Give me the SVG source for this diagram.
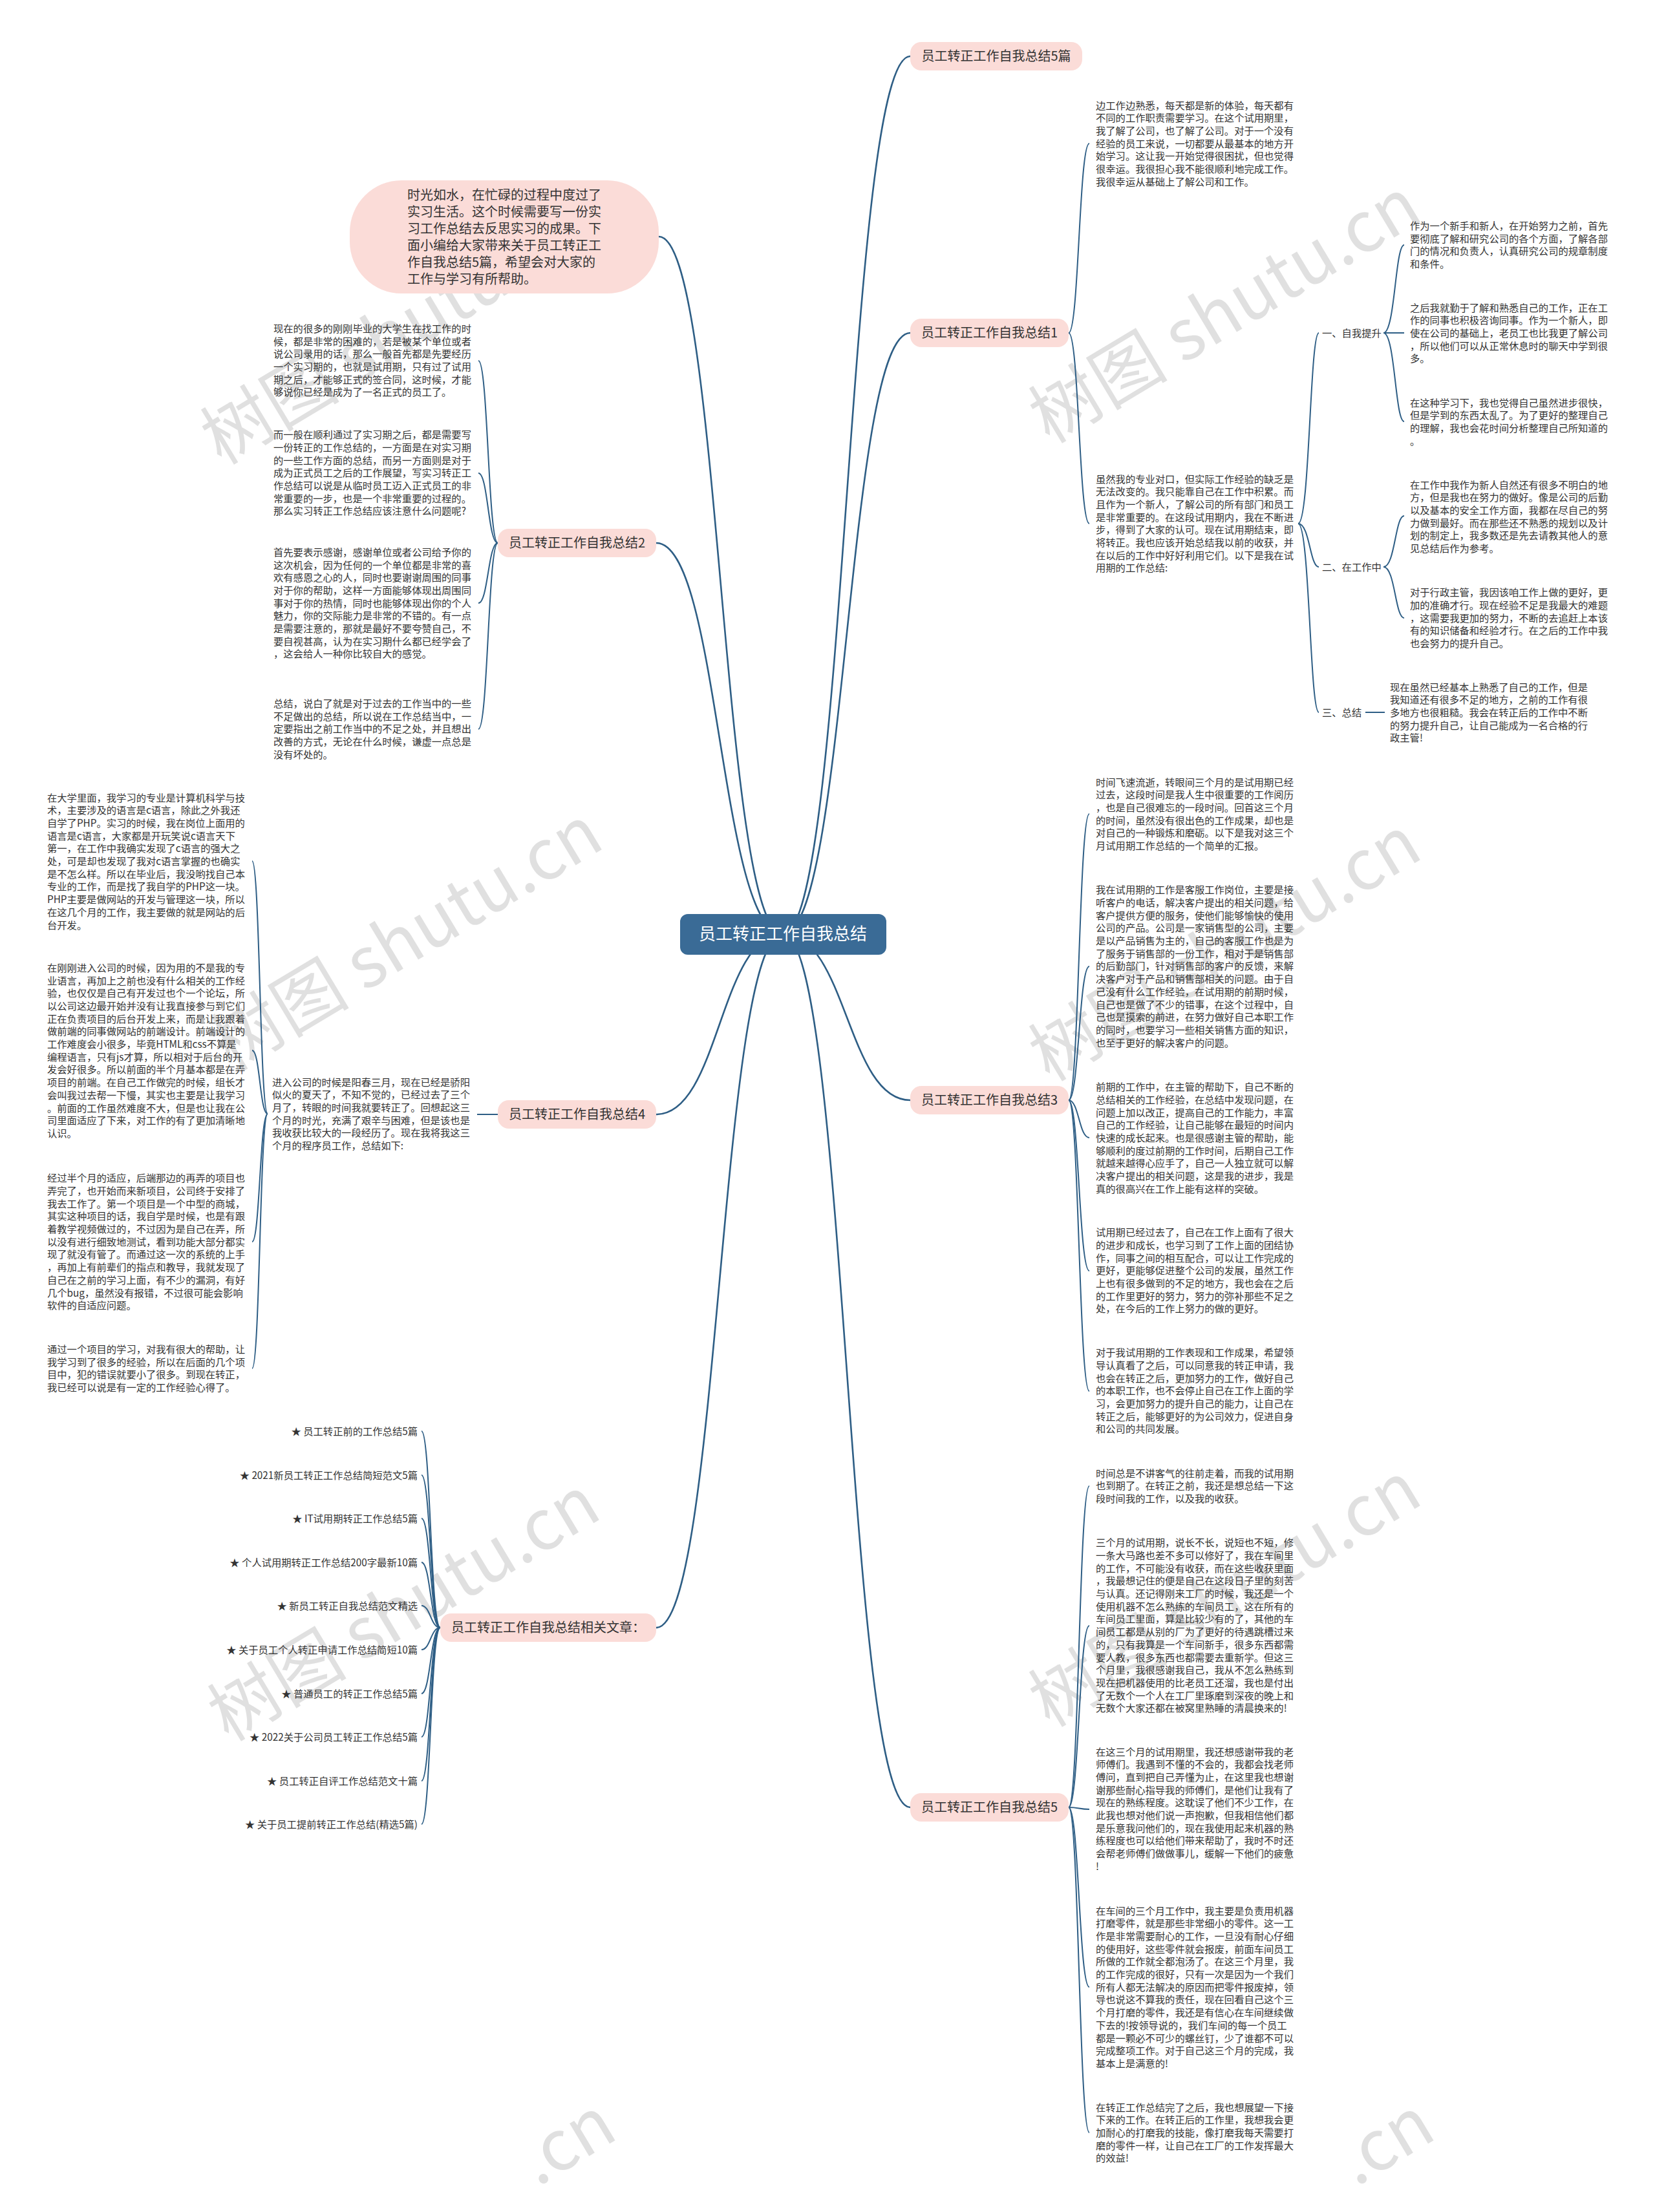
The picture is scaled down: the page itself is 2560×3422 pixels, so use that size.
<svg xmlns="http://www.w3.org/2000/svg" width="2560" height="3422" viewBox="0 0 2560 3422">
<style>
.t{font-family:"Noto Sans CJK SC","Noto Sans",sans-serif;font-size:15.3px;fill:#333}
.n{font-family:"Noto Sans CJK SC","Noto Sans",sans-serif;font-size:20px;fill:#333}
.w{font-family:"Noto Sans CJK SC","Noto Sans",sans-serif;font-size:108px;fill:#c8c8c8;opacity:0.55}
.c{stroke:#2e5e85;stroke-width:2.6;fill:none}
.s{stroke:#2e5e85;stroke-width:2;fill:none}
.b{fill:#fbdcd8}
</style>
<rect width="2560" height="3422" fill="#fff"/>
<g id="watermarks">
<text class="w" transform="translate(633,546) rotate(-31)" text-anchor="middle">树图 shutu.cn</text>
<text class="w" transform="translate(1914,513) rotate(-31)" text-anchor="middle">树图 shutu.cn</text>
<text class="w" transform="translate(648,1484) rotate(-31)" text-anchor="middle">树图 shutu.cn</text>
<text class="w" transform="translate(1914,1500) rotate(-31)" text-anchor="middle">树图 shutu.cn</text>
<text class="w" transform="translate(644,2521) rotate(-31)" text-anchor="middle">树图 shutu.cn</text>
<text class="w" transform="translate(1914,2499) rotate(-31)" text-anchor="middle">树图 shutu.cn</text>
<text class="w" transform="translate(895,3345) rotate(-31)" text-anchor="middle">.cn</text>
<text class="w" transform="translate(2161,3345) rotate(-31)" text-anchor="middle">.cn</text>
</g>
<g id="connectors">
<path class="c" d="M1211,1445 C1115,1445 1115,366 1019,366"/>
<path class="c" d="M1211,1445 C1310,1445 1310,87 1408,87"/>
<path class="c" d="M1211,1445 C1310,1445 1310,515 1408,515"/>
<path class="c" d="M1211,1445 C1113,1445 1113,840 1015,840"/>
<path class="c" d="M1211,1445 C1310,1445 1310,1702 1408,1702"/>
<path class="c" d="M1211,1445 C1113,1445 1113,1724 1015,1724"/>
<path class="c" d="M1211,1445 C1113,1445 1113,2518 1015,2518"/>
<path class="c" d="M1211,1445 C1310,1445 1310,2796 1408,2796"/>
<path class="s" d="M1653,515 C1669,515 1669,222 1685,222"/>
<path class="s" d="M1653,515 C1669,515 1669,810 1685,810"/>
<path class="s" d="M2008,810 C2026,810 2026,515 2040,515"/>
<path class="s" d="M2008,810 C2026,810 2026,877 2040,877"/>
<path class="s" d="M2008,810 C2026,810 2026,1102 2040,1102"/>
<path class="s" d="M2140,515 C2158,515 2158,379 2172,379"/>
<path class="s" d="M2140,515 L2172,515"/>
<path class="s" d="M2140,515 C2158,515 2158,652 2172,652"/>
<path class="s" d="M2140,877 C2158,877 2158,798 2172,798"/>
<path class="s" d="M2140,877 C2158,877 2158,956 2172,956"/>
<path class="s" d="M2112,1102 L2142,1102"/>
<path class="s" d="M770,840 C755,840 755,558 740,558"/>
<path class="s" d="M770,840 C755,840 755,732 740,732"/>
<path class="s" d="M770,840 C755,840 755,933 740,933"/>
<path class="s" d="M770,840 C755,840 755,1128 740,1128"/>
<path class="s" d="M770,1724 L738,1724"/>
<path class="s" d="M414,1723 C402,1723 402,1332 390,1332"/>
<path class="s" d="M414,1723 C402,1723 402,1625 390,1625"/>
<path class="s" d="M414,1723 C402,1723 402,1921 390,1921"/>
<path class="s" d="M414,1723 C402,1723 402,2117 390,2117"/>
<path class="s" d="M1653,1702 C1669,1702 1669,1259 1685,1259"/>
<path class="s" d="M1653,1702 C1669,1702 1669,1495 1685,1495"/>
<path class="s" d="M1653,1702 C1669,1702 1669,1760 1685,1760"/>
<path class="s" d="M1653,1702 C1669,1702 1669,1966 1685,1966"/>
<path class="s" d="M1653,1702 C1669,1702 1669,2152 1685,2152"/>
<path class="s" d="M1653,2796 C1669,2796 1669,2299 1685,2299"/>
<path class="s" d="M1653,2796 C1669,2796 1669,2515 1685,2515"/>
<path class="s" d="M1653,2796 C1669,2796 1669,2799 1685,2799"/>
<path class="s" d="M1653,2796 C1669,2796 1669,3074 1685,3074"/>
<path class="s" d="M1653,2796 C1669,2796 1669,3299 1685,3299"/>
<path class="s" d="M681,2518 C666,2518 666,2214 652,2214"/>
<path class="s" d="M681,2518 C666,2518 666,2282 652,2282"/>
<path class="s" d="M681,2518 C666,2518 666,2349 652,2349"/>
<path class="s" d="M681,2518 C666,2518 666,2417 652,2417"/>
<path class="s" d="M681,2518 C666,2518 666,2484 652,2484"/>
<path class="s" d="M681,2518 C666,2518 666,2552 652,2552"/>
<path class="s" d="M681,2518 C666,2518 666,2620 652,2620"/>
<path class="s" d="M681,2518 C666,2518 666,2687 652,2687"/>
<path class="s" d="M681,2518 C666,2518 666,2755 652,2755"/>
<path class="s" d="M681,2518 C666,2518 666,2822 652,2822"/>
</g>
<g id="center">
<rect x="1052" y="1414" width="319" height="63" rx="12" fill="#3a6b96"/>
<text x="1211" y="1454" text-anchor="middle" style="font-family:'Noto Sans CJK SC','Noto Sans',sans-serif;font-size:26px;fill:#fff">员工转正工作自我总结</text>
</g>
<g id="intro">
<rect x="541" y="279" width="478" height="175" rx="80" class="b"/>
<text class="n" x="630" y="308.5"><tspan x="630">时光如水，在忙碌的过程中度过了</tspan><tspan x="630" dy="26">实习生活。这个时候需要写一份实</tspan><tspan x="630" dy="26">习工作总结去反思实习的成果。下</tspan><tspan x="630" dy="26">面小编给大家带来关于员工转正工</tspan><tspan x="630" dy="26">作自我总结5篇，希望会对大家的</tspan><tspan x="630" dy="26">工作与学习有所帮助。</tspan></text>
</g>
<g id="n5p">
<rect x="1408" y="65" width="266" height="44" rx="17" class="b"/>
<text class="n" x="1541" y="94" text-anchor="middle">员工转正工作自我总结5篇</text>
</g>
<g id="n1">
<rect x="1408" y="493" width="245" height="44" rx="17" class="b"/>
<text class="n" x="1530.5" y="522" text-anchor="middle">员工转正工作自我总结1</text>
</g>
<g id="n2">
<rect x="770" y="818" width="245" height="44" rx="17" class="b"/>
<text class="n" x="892.5" y="847" text-anchor="middle">员工转正工作自我总结2</text>
</g>
<g id="n3">
<rect x="1408" y="1680" width="245" height="44" rx="17" class="b"/>
<text class="n" x="1530.5" y="1709" text-anchor="middle">员工转正工作自我总结3</text>
</g>
<g id="n4">
<rect x="770" y="1702" width="245" height="44" rx="17" class="b"/>
<text class="n" x="892.5" y="1731" text-anchor="middle">员工转正工作自我总结4</text>
</g>
<g id="nrel">
<rect x="681" y="2496" width="334" height="44" rx="17" class="b"/>
<text class="n" x="848" y="2525" text-anchor="middle">员工转正工作自我总结相关文章：</text>
</g>
<g id="n5">
<rect x="1408" y="2774" width="245" height="44" rx="17" class="b"/>
<text class="n" x="1530.5" y="2803" text-anchor="middle">员工转正工作自我总结5</text>
</g>
<g id="n1a">
<text class="t" x="1695" y="168.5"><tspan x="1695">边工作边熟悉，每天都是新的体验，每天都有</tspan><tspan x="1695" dy="19.7">不同的工作职责需要学习。在这个试用期里，</tspan><tspan x="1695" dy="19.7">我了解了公司，也了解了公司。对于一个没有</tspan><tspan x="1695" dy="19.7">经验的员工来说，一切都要从最基本的地方开</tspan><tspan x="1695" dy="19.7">始学习。这让我一开始觉得很困扰，但也觉得</tspan><tspan x="1695" dy="19.7">很幸运。我很担心我不能很顺利地完成工作。</tspan><tspan x="1695" dy="19.7">我很幸运从基础上了解公司和工作。</tspan></text>
</g>
<g id="n1b">
<text class="t" x="1695" y="746.5"><tspan x="1695">虽然我的专业对口，但实际工作经验的缺乏是</tspan><tspan x="1695" dy="19.7">无法改变的。我只能靠自己在工作中积累。而</tspan><tspan x="1695" dy="19.7">且作为一个新人，了解公司的所有部门和员工</tspan><tspan x="1695" dy="19.7">是非常重要的。在这段试用期内，我在不断进</tspan><tspan x="1695" dy="19.7">步，得到了大家的认可。现在试用期结束，即</tspan><tspan x="1695" dy="19.7">将转正。我也应该开始总结我以前的收获，并</tspan><tspan x="1695" dy="19.7">在以后的工作中好好利用它们。以下是我在试</tspan><tspan x="1695" dy="19.7">用期的工作总结:</tspan></text>
</g>
<g id="l1"><text class="t" x="2045" y="520.5">一、自我提升</text></g>
<g id="l2"><text class="t" x="2045" y="882.5">二、在工作中</text></g>
<g id="l3"><text class="t" x="2045" y="1107.5">三、总结</text></g>
<g id="r1">
<text class="t" x="2181" y="354.8"><tspan x="2181">作为一个新手和新人，在开始努力之前，首先</tspan><tspan x="2181" dy="19.7">要彻底了解和研究公司的各个方面，了解各部</tspan><tspan x="2181" dy="19.7">门的情况和负责人，认真研究公司的规章制度</tspan><tspan x="2181" dy="19.7">和条件。</tspan></text>
</g>
<g id="r2">
<text class="t" x="2181" y="481.5"><tspan x="2181">之后我就勤于了解和熟悉自己的工作，正在工</tspan><tspan x="2181" dy="19.7">作的同事也积极咨询同事。作为一个新人，即</tspan><tspan x="2181" dy="19.7">使在公司的基础上，老员工也比我更了解公司</tspan><tspan x="2181" dy="19.7">，所以他们可以从正常休息时的聊天中学到很</tspan><tspan x="2181" dy="19.7">多。</tspan></text>
</g>
<g id="r3">
<text class="t" x="2181" y="628.5"><tspan x="2181">在这种学习下，我也觉得自己虽然进步很快，</tspan><tspan x="2181" dy="19.7">但是学到的东西太乱了。为了更好的整理自己</tspan><tspan x="2181" dy="19.7">的理解，我也会花时间分析整理自己所知道的</tspan><tspan x="2181" dy="19.7">。</tspan></text>
</g>
<g id="r4">
<text class="t" x="2181" y="755.5"><tspan x="2181">在工作中我作为新人自然还有很多不明白的地</tspan><tspan x="2181" dy="19.7">方，但是我也在努力的做好。像是公司的后勤</tspan><tspan x="2181" dy="19.7">以及基本的安全工作方面，我都在尽自己的努</tspan><tspan x="2181" dy="19.7">力做到最好。而在那些还不熟悉的规划以及计</tspan><tspan x="2181" dy="19.7">划的制定上，我多数还是先去请教其他人的意</tspan><tspan x="2181" dy="19.7">见总结后作为参考。</tspan></text>
</g>
<g id="r5">
<text class="t" x="2181" y="922.2"><tspan x="2181">对于行政主管，我因该咱工作上做的更好，更</tspan><tspan x="2181" dy="19.7">加的准确才行。现在经验不足是我最大的难题</tspan><tspan x="2181" dy="19.7">，这需要我更加的努力，不断的去追赶上本该</tspan><tspan x="2181" dy="19.7">有的知识储备和经验才行。在之后的工作中我</tspan><tspan x="2181" dy="19.7">也会努力的提升自己。</tspan></text>
</g>
<g id="r6">
<text class="t" x="2150" y="1068.5"><tspan x="2150">现在虽然已经基本上熟悉了自己的工作，但是</tspan><tspan x="2150" dy="19.7">我知道还有很多不足的地方，之前的工作有很</tspan><tspan x="2150" dy="19.7">多地方也很粗糙。我会在转正后的工作中不断</tspan><tspan x="2150" dy="19.7">的努力提升自己，让自己能成为一名合格的行</tspan><tspan x="2150" dy="19.7">政主管!</tspan></text>
</g>
<g id="d1">
<text class="t" x="423" y="513.8"><tspan x="423">现在的很多的刚刚毕业的大学生在找工作的时</tspan><tspan x="423" dy="19.7">候，都是非常的困难的，若是被某个单位或者</tspan><tspan x="423" dy="19.7">说公司录用的话，那么一般首先都是先要经历</tspan><tspan x="423" dy="19.7">一个实习期的，也就是试用期，只有过了试用</tspan><tspan x="423" dy="19.7">期之后，才能够正式的签合同，这时候，才能</tspan><tspan x="423" dy="19.7">够说你已经是成为了一名正式的员工了。</tspan></text>
</g>
<g id="d2">
<text class="t" x="423" y="678.2"><tspan x="423">而一般在顺利通过了实习期之后，都是需要写</tspan><tspan x="423" dy="19.7">一份转正的工作总结的，一方面是在对实习期</tspan><tspan x="423" dy="19.7">的一些工作方面的总结，而另一方面则是对于</tspan><tspan x="423" dy="19.7">成为正式员工之后的工作展望，写实习转正工</tspan><tspan x="423" dy="19.7">作总结可以说是从临时员工迈入正式员工的非</tspan><tspan x="423" dy="19.7">常重要的一步，也是一个非常重要的过程的。</tspan><tspan x="423" dy="19.7">那么实习转正工作总结应该注意什么问题呢?</tspan></text>
</g>
<g id="d3">
<text class="t" x="423" y="859.8"><tspan x="423">首先要表示感谢，感谢单位或者公司给予你的</tspan><tspan x="423" dy="19.7">这次机会，因为任何的一个单位都是非常的喜</tspan><tspan x="423" dy="19.7">欢有感恩之心的人，同时也要谢谢周围的同事</tspan><tspan x="423" dy="19.7">对于你的帮助，这样一方面能够体现出周围同</tspan><tspan x="423" dy="19.7">事对于你的热情，同时也能够体现出你的个人</tspan><tspan x="423" dy="19.7">魅力，你的交际能力是非常的不错的。有一点</tspan><tspan x="423" dy="19.7">是需要注意的，那就是最好不要夸赞自己，不</tspan><tspan x="423" dy="19.7">要自视甚高，认为在实习期什么都已经学会了</tspan><tspan x="423" dy="19.7">，这会给人一种你比较自大的感觉。</tspan></text>
</g>
<g id="d4">
<text class="t" x="423" y="1093.8"><tspan x="423">总结，说白了就是对于过去的工作当中的一些</tspan><tspan x="423" dy="19.7">不足做出的总结，所以说在工作总结当中，一</tspan><tspan x="423" dy="19.7">定要指出之前工作当中的不足之处，并且想出</tspan><tspan x="423" dy="19.7">改善的方式，无论在什么时候，谦虚一点总是</tspan><tspan x="423" dy="19.7">没有坏处的。</tspan></text>
</g>
<g id="g4">
<text class="t" x="421" y="1679.5"><tspan x="421">进入公司的时候是阳春三月，现在已经是骄阳</tspan><tspan x="421" dy="19.7">似火的夏天了，不知不觉的，已经过去了三个</tspan><tspan x="421" dy="19.7">月了，转眼的时间我就要转正了。回想起这三</tspan><tspan x="421" dy="19.7">个月的时光，充满了艰辛与困难，但是该也是</tspan><tspan x="421" dy="19.7">我收获比较大的一段经历了。现在我将我这三</tspan><tspan x="421" dy="19.7">个月的程序员工作，总结如下:</tspan></text>
</g>
<g id="f1">
<text class="t" x="73" y="1239.5"><tspan x="73">在大学里面，我学习的专业是计算机科学与技</tspan><tspan x="73" dy="19.7">术，主要涉及的语言是c语言，除此之外我还</tspan><tspan x="73" dy="19.7">自学了PHP。实习的时候，我在岗位上面用的</tspan><tspan x="73" dy="19.7">语言是c语言，大家都是开玩笑说c语言天下</tspan><tspan x="73" dy="19.7">第一，在工作中我确实发现了c语言的强大之</tspan><tspan x="73" dy="19.7">处，可是却也发现了我对c语言掌握的也确实</tspan><tspan x="73" dy="19.7">是不怎么样。所以在毕业后，我没哟找自己本</tspan><tspan x="73" dy="19.7">专业的工作，而是找了我自学的PHP这一块。</tspan><tspan x="73" dy="19.7">PHP主要是做网站的开发与管理这一块，所以</tspan><tspan x="73" dy="19.7">在这几个月的工作，我主要做的就是网站的后</tspan><tspan x="73" dy="19.7">台开发。</tspan></text>
</g>
<g id="f2">
<text class="t" x="73" y="1502.8"><tspan x="73">在刚刚进入公司的时候，因为用的不是我的专</tspan><tspan x="73" dy="19.7">业语言，再加上之前也没有什么相关的工作经</tspan><tspan x="73" dy="19.7">验，也仅仅是自己有开发过也个一个论坛，所</tspan><tspan x="73" dy="19.7">以公司这边最开始并没有让我直接参与到它们</tspan><tspan x="73" dy="19.7">正在负责项目的后台开发上来，而是让我跟着</tspan><tspan x="73" dy="19.7">做前端的同事做网站的前端设计。前端设计的</tspan><tspan x="73" dy="19.7">工作难度会小很多，毕竟HTML和css不算是</tspan><tspan x="73" dy="19.7">编程语言，只有js才算，所以相对于后台的开</tspan><tspan x="73" dy="19.7">发会好很多。所以前面的半个月基本都是在弄</tspan><tspan x="73" dy="19.7">项目的前端。在自己工作做完的时候，组长才</tspan><tspan x="73" dy="19.7">会叫我过去帮一下慢，其实也主要是让我学习</tspan><tspan x="73" dy="19.7">。前面的工作虽然难度不大，但是也让我在公</tspan><tspan x="73" dy="19.7">司里面适应了下来，对工作的有了更加清晰地</tspan><tspan x="73" dy="19.7">认识。</tspan></text>
</g>
<g id="f3">
<text class="t" x="73" y="1828.2"><tspan x="73">经过半个月的适应，后端那边的再弄的项目也</tspan><tspan x="73" dy="19.7">弄完了，也开始而来新项目，公司终于安排了</tspan><tspan x="73" dy="19.7">我去工作了。第一个项目是一个中型的商城，</tspan><tspan x="73" dy="19.7">其实这种项目的话，我自学是时候，也是有跟</tspan><tspan x="73" dy="19.7">着教学视频做过的，不过因为是自己在弄，所</tspan><tspan x="73" dy="19.7">以没有进行细致地测试，看到功能大部分都实</tspan><tspan x="73" dy="19.7">现了就没有管了。而通过这一次的系统的上手</tspan><tspan x="73" dy="19.7">，再加上有前辈们的指点和教导，我就发现了</tspan><tspan x="73" dy="19.7">自己在之前的学习上面，有不少的漏洞，有好</tspan><tspan x="73" dy="19.7">几个bug，虽然没有报错，不过很可能会影响</tspan><tspan x="73" dy="19.7">软件的自适应问题。</tspan></text>
</g>
<g id="f4">
<text class="t" x="73" y="2092.8"><tspan x="73">通过一个项目的学习，对我有很大的帮助，让</tspan><tspan x="73" dy="19.7">我学习到了很多的经验，所以在后面的几个项</tspan><tspan x="73" dy="19.7">目中，犯的错误就要小了很多。到现在转正，</tspan><tspan x="73" dy="19.7">我已经可以说是有一定的工作经验心得了。</tspan></text>
</g>
<g id="c1">
<text class="t" x="1695" y="1215.5"><tspan x="1695">时间飞速流逝，转眼间三个月的是试用期已经</tspan><tspan x="1695" dy="19.7">过去，这段时间是我人生中很重要的工作阅历</tspan><tspan x="1695" dy="19.7">，也是自己很难忘的一段时间。回首这三个月</tspan><tspan x="1695" dy="19.7">的时间，虽然没有很出色的工作成果，却也是</tspan><tspan x="1695" dy="19.7">对自己的一种锻炼和磨砺。以下是我对这三个</tspan><tspan x="1695" dy="19.7">月试用期工作总结的一个简单的汇报。</tspan></text>
</g>
<g id="c2">
<text class="t" x="1695" y="1382.2"><tspan x="1695">我在试用期的工作是客服工作岗位，主要是接</tspan><tspan x="1695" dy="19.7">听客户的电话，解决客户提出的相关问题，给</tspan><tspan x="1695" dy="19.7">客户提供方便的服务，使他们能够愉快的使用</tspan><tspan x="1695" dy="19.7">公司的产品。公司是一家销售型的公司，主要</tspan><tspan x="1695" dy="19.7">是以产品销售为主的，自己的客服工作也是为</tspan><tspan x="1695" dy="19.7">了服务于销售部的一份工作，相对于是销售部</tspan><tspan x="1695" dy="19.7">的后勤部门，针对销售部的客户的反馈，来解</tspan><tspan x="1695" dy="19.7">决客户对于产品和销售部相关的问题。由于自</tspan><tspan x="1695" dy="19.7">己没有什么工作经验，在试用期的前期时候，</tspan><tspan x="1695" dy="19.7">自己也是做了不少的错事，在这个过程中，自</tspan><tspan x="1695" dy="19.7">己也是摸索的前进，在努力做好自己本职工作</tspan><tspan x="1695" dy="19.7">的同时，也要学习一些相关销售方面的知识，</tspan><tspan x="1695" dy="19.7">也至于更好的解决客户的问题。</tspan></text>
</g>
<g id="c3">
<text class="t" x="1695" y="1687.2"><tspan x="1695">前期的工作中，在主管的帮助下，自己不断的</tspan><tspan x="1695" dy="19.7">总结相关的工作经验，在总结中发现问题，在</tspan><tspan x="1695" dy="19.7">问题上加以改正，提高自己的工作能力，丰富</tspan><tspan x="1695" dy="19.7">自己的工作经验，让自己能够在最短的时间内</tspan><tspan x="1695" dy="19.7">快速的成长起来。也是很感谢主管的帮助，能</tspan><tspan x="1695" dy="19.7">够顺利的度过前期的工作时间，后期自己工作</tspan><tspan x="1695" dy="19.7">就越来越得心应手了，自己一人独立就可以解</tspan><tspan x="1695" dy="19.7">决客户提出的相关问题，这是我的进步，我是</tspan><tspan x="1695" dy="19.7">真的很高兴在工作上能有这样的突破。</tspan></text>
</g>
<g id="c4">
<text class="t" x="1695" y="1912.2"><tspan x="1695">试用期已经过去了，自己在工作上面有了很大</tspan><tspan x="1695" dy="19.7">的进步和成长，也学习到了工作上面的团结协</tspan><tspan x="1695" dy="19.7">作，同事之间的相互配合，可以让工作完成的</tspan><tspan x="1695" dy="19.7">更好，更能够促进整个公司的发展，虽然工作</tspan><tspan x="1695" dy="19.7">上也有很多做到的不足的地方，我也会在之后</tspan><tspan x="1695" dy="19.7">的工作里更好的努力，努力的弥补那些不足之</tspan><tspan x="1695" dy="19.7">处，在今后的工作上努力的做的更好。</tspan></text>
</g>
<g id="c5">
<text class="t" x="1695" y="2098.2"><tspan x="1695">对于我试用期的工作表现和工作成果，希望领</tspan><tspan x="1695" dy="19.7">导认真看了之后，可以同意我的转正申请，我</tspan><tspan x="1695" dy="19.7">也会在转正之后，更加努力的工作，做好自己</tspan><tspan x="1695" dy="19.7">的本职工作，也不会停止自己在工作上面的学</tspan><tspan x="1695" dy="19.7">习，会更加努力的提升自己的能力，让自己在</tspan><tspan x="1695" dy="19.7">转正之后，能够更好的为公司效力，促进自身</tspan><tspan x="1695" dy="19.7">和公司的共同发展。</tspan></text>
</g>
<g id="e1">
<text class="t" x="1695" y="2284.5"><tspan x="1695">时间总是不讲客气的往前走着，而我的试用期</tspan><tspan x="1695" dy="19.7">也到期了。在转正之前，我还是想总结一下这</tspan><tspan x="1695" dy="19.7">段时间我的工作，以及我的收获。</tspan></text>
</g>
<g id="e2">
<text class="t" x="1695" y="2392.2"><tspan x="1695">三个月的试用期，说长不长，说短也不短，修</tspan><tspan x="1695" dy="19.7">一条大马路也差不多可以修好了，我在车间里</tspan><tspan x="1695" dy="19.7">的工作，不可能没有收获，而在这些收获里面</tspan><tspan x="1695" dy="19.7">，我最想记住的便是自己在这段日子里的刻苦</tspan><tspan x="1695" dy="19.7">与认真。还记得刚来工厂的时候，我还是一个</tspan><tspan x="1695" dy="19.7">使用机器不怎么熟练的车间员工，这在所有的</tspan><tspan x="1695" dy="19.7">车间员工里面，算是比较少有的了，其他的车</tspan><tspan x="1695" dy="19.7">间员工都是从别的厂为了更好的待遇跳槽过来</tspan><tspan x="1695" dy="19.7">的，只有我算是一个车间新手，很多东西都需</tspan><tspan x="1695" dy="19.7">要人教，很多东西也都需要去重新学。但这三</tspan><tspan x="1695" dy="19.7">个月里，我很感谢我自己，我从不怎么熟练到</tspan><tspan x="1695" dy="19.7">现在把机器使用的比老员工还溜，我也是付出</tspan><tspan x="1695" dy="19.7">了无数个一个人在工厂里琢磨到深夜的晚上和</tspan><tspan x="1695" dy="19.7">无数个大家还都在被窝里熟睡的清晨换来的!</tspan></text>
</g>
<g id="e3">
<text class="t" x="1695" y="2715.5"><tspan x="1695">在这三个月的试用期里，我还想感谢带我的老</tspan><tspan x="1695" dy="19.7">师傅们。我遇到不懂的不会的，我都会找老师</tspan><tspan x="1695" dy="19.7">傅问，直到把自己弄懂为止，在这里我也想谢</tspan><tspan x="1695" dy="19.7">谢那些耐心指导我的师傅们，是他们让我有了</tspan><tspan x="1695" dy="19.7">现在的熟练程度。这耽误了他们不少工作，在</tspan><tspan x="1695" dy="19.7">此我也想对他们说一声抱歉，但我相信他们都</tspan><tspan x="1695" dy="19.7">是乐意我问他们的，现在我使用起来机器的熟</tspan><tspan x="1695" dy="19.7">练程度也可以给他们带来帮助了，我时不时还</tspan><tspan x="1695" dy="19.7">会帮老师傅们做做事儿，缓解一下他们的疲惫</tspan><tspan x="1695" dy="19.7">!</tspan></text>
</g>
<g id="e4">
<text class="t" x="1695" y="2961.5"><tspan x="1695">在车间的三个月工作中，我主要是负责用机器</tspan><tspan x="1695" dy="19.7">打磨零件，就是那些非常细小的零件。这一工</tspan><tspan x="1695" dy="19.7">作是非常需要耐心的工作，一旦没有耐心仔细</tspan><tspan x="1695" dy="19.7">的使用好，这些零件就会报废，前面车间员工</tspan><tspan x="1695" dy="19.7">所做的工作就全都泡汤了。在这三个月里，我</tspan><tspan x="1695" dy="19.7">的工作完成的很好，只有一次是因为一个我们</tspan><tspan x="1695" dy="19.7">所有人都无法解决的原因而把零件报废掉，领</tspan><tspan x="1695" dy="19.7">导也说这不算我的责任，现在回看自己这个三</tspan><tspan x="1695" dy="19.7">个月打磨的零件，我还是有信心在车间继续做</tspan><tspan x="1695" dy="19.7">下去的!按领导说的，我们车间的每一个员工</tspan><tspan x="1695" dy="19.7">都是一颗必不可少的螺丝钉，少了谁都不可以</tspan><tspan x="1695" dy="19.7">完成整项工作。对于自己这三个月的完成，我</tspan><tspan x="1695" dy="19.7">基本上是满意的!</tspan></text>
</g>
<g id="e5">
<text class="t" x="1695" y="3265.5"><tspan x="1695">在转正工作总结完了之后，我也想展望一下接</tspan><tspan x="1695" dy="19.7">下来的工作。在转正后的工作里，我想我会更</tspan><tspan x="1695" dy="19.7">加耐心的打磨我的技能，像打磨我每天需要打</tspan><tspan x="1695" dy="19.7">磨的零件一样，让自己在工厂的工作发挥最大</tspan><tspan x="1695" dy="19.7">的效益!</tspan></text>
</g>
<g id="related" class="t" text-anchor="end">
<text class="t" x="646" y="2219.5">★ 员工转正前的工作总结5篇</text>
<text class="t" x="646" y="2287.5">★ 2021新员工转正工作总结简短范文5篇</text>
<text class="t" x="646" y="2354.5">★ IT试用期转正工作总结5篇</text>
<text class="t" x="646" y="2422.5">★ 个人试用期转正工作总结200字最新10篇</text>
<text class="t" x="646" y="2489.5">★ 新员工转正自我总结范文精选</text>
<text class="t" x="646" y="2557.5">★ 关于员工个人转正申请工作总结简短10篇</text>
<text class="t" x="646" y="2625.5">★ 普通员工的转正工作总结5篇</text>
<text class="t" x="646" y="2692.5">★ 2022关于公司员工转正工作总结5篇</text>
<text class="t" x="646" y="2760.5">★ 员工转正自评工作总结范文十篇</text>
<text class="t" x="646" y="2827.5">★ 关于员工提前转正工作总结(精选5篇)</text>
</g>
</svg>
